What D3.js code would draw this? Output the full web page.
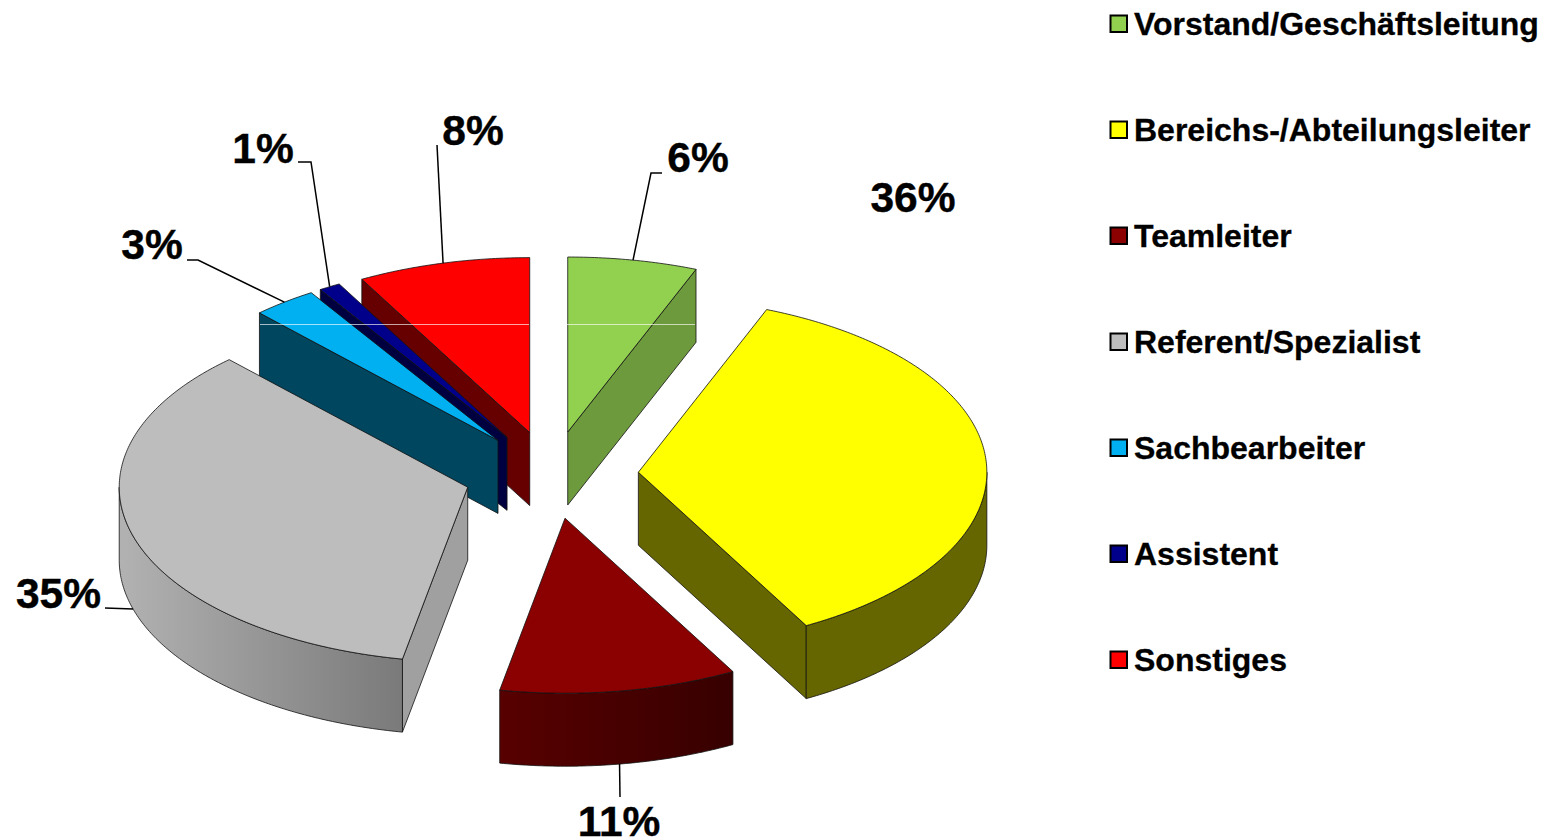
<!DOCTYPE html>
<html>
<head>
<meta charset="utf-8">
<script src="https://cdn.jsdelivr.net/npm/d3@7"></script>
<style>
	html, body { margin: 0; padding: 0; background: #fff; overflow: hidden; }
	text { font-family: "Liberation Sans", Arial, sans-serif; font-weight: bold; fill: #000; }
</style>
</head>
<body>
<div id="chart"></div>
<script>
var categories = ['Vorstand/Geschäftsleitung', 'Bereichs-/Abteilungsleiter', 'Teamleiter', 'Referent/Spezialist', 'Sachbearbeiter', 'Assistent', 'Sonstiges'];
var shares = [6, 36, 11, 35, 3, 1, 8];

var topColors = ['#92d050', '#ffff00', '#8b0000', '#bdbdbd', '#00b0f0', '#00008b', '#ff0000'];
var wallColors = ['#6d9a3c', '#666600', '#4a0000', '#a0a0a0', '#00465f', '#000040', '#660000'];
var wallGradients = { 2: ['#580000', '#370000'], 3: ['#b2b2b2', '#7a7a7a'] };

// back to front, so nearer slices cover the walls behind them
var paintOrder = [0, 6, 5, 4, 3, 1, 2];

// elbow points of the leader lines and where each label sits (36% has no leader)
var leaders = [
	{ elbow: [[651, 173], [662, 173]], text: [698, 172] },
	{ elbow: [], text: [913, 212] },
	{ elbow: [[620, 797]], text: [619, 836] },
	{ elbow: [[105, 608]], text: [58.5, 608] },
	{ elbow: [[198, 260], [187, 260]], text: [152, 259] },
	{ elbow: [[311, 162], [298, 162]], text: [263, 163] },
	{ elbow: [[437, 145]], text: [473, 145] }
];

var width = 1544, height = 840;
var cx = 551.4, cy = 475;
var rx = 348.5, ry = 175;
var depth = 73;
var explode = 0.25;

var svg = d3.select('#chart').append('svg')
	.attr('width', width)
	.attr('height', height);
var defs = svg.append('defs');

var slices = d3.pie().sort(null)(shares);

// angle in radians clockwise from 12 o'clock, r as a share of the radius
var project = function(a, r, ox, oy, dz) {
	return [ox + rx * r * Math.sin(a), oy - ry * r * Math.cos(a) + (dz || 0)];
};

var arcPoints = function(a0, a1, ox, oy, dz) {
	var n = Math.max(2, Math.ceil((a1 - a0) * 90));
	return d3.range(n + 1).map(function(i) {
		return project(a0 + (a1 - a0) * i / n, 1, ox, oy, dz);
	});
};

var line = d3.line();
var outline = '#111';

paintOrder.forEach(function(i) {
	var d = slices[i];
	var mid = (d.startAngle + d.endAngle) / 2;
	var c = project(mid, explode, cx, cy);
	var ox = c[0], oy = c[1];
	var g = svg.append('g').attr('class', 'slice');

	var radialWall = function(a) {
		var p = project(a, 1, ox, oy);
		g.append('path')
			.attr('d', line([[ox, oy], p, [p[0], p[1] + depth], [ox, oy + depth]]) + 'Z')
			.attr('fill', wallColors[i])
			.attr('stroke', outline)
			.attr('stroke-width', 0.8);
	};

	// a cut side faces the viewer only when its outward normal points down
	if (Math.sin(d.startAngle) < -0.01) radialWall(d.startAngle);
	if (Math.sin(d.endAngle) > 0.01) radialWall(d.endAngle);

	// the rim is seen only on the near half of the ellipse
	var a0 = Math.max(d.startAngle, Math.PI / 2);
	var a1 = Math.min(d.endAngle, 3 * Math.PI / 2);
	if (a1 > a0) {
		var fill = wallColors[i];
		if (wallGradients[i]) {
			var xs = arcPoints(a0, a1, ox, oy).map(function(p) { return p[0]; });
			var grad = defs.append('linearGradient')
				.attr('id', 'rim' + i)
				.attr('gradientUnits', 'userSpaceOnUse')
				.attr('x1', d3.min(xs)).attr('x2', d3.max(xs))
				.attr('y1', 0).attr('y2', 0);
			grad.append('stop').attr('offset', 0).attr('stop-color', wallGradients[i][0]);
			grad.append('stop').attr('offset', 1).attr('stop-color', wallGradients[i][1]);
			fill = 'url(#rim' + i + ')';
		}
		var rim = arcPoints(a0, a1, ox, oy).concat(arcPoints(a0, a1, ox, oy, depth).reverse());
		g.append('path')
			.attr('d', line(rim) + 'Z')
			.attr('fill', fill)
			.attr('stroke', outline)
			.attr('stroke-width', 0.8);
	}

	g.append('path')
		.attr('d', line([[ox, oy]].concat(arcPoints(d.startAngle, d.endAngle, ox, oy))) + 'Z')
		.attr('fill', topColors[i])
		.attr('stroke', outline)
		.attr('stroke-width', 0.8);
});

// thin light seam that runs through the back slices in the original
svg.append('g').selectAll('line')
	.data([[260, 529], [567, 695]])
	.enter().append('line')
		.attr('x1', function(d) { return d[0]; })
		.attr('x2', function(d) { return d[1]; })
		.attr('y1', 324.5).attr('y2', 324.5)
		.attr('stroke', '#fff')
		.attr('stroke-opacity', 0.65)
		.attr('stroke-width', 1);

// data labels with leader lines, starting on the slice they belong to
slices.forEach(function(d, i) {
	var mid = (d.startAngle + d.endAngle) / 2;
	var c = project(mid, explode, cx, cy);
	var nearSide = Math.cos(mid) < 0;
	var start = project(mid, 1, c[0], c[1], nearSide ? depth : 0);
	var l = leaders[i];
	if (l.elbow.length) {
		svg.append('path')
			.attr('d', line([start].concat(l.elbow)))
			.attr('fill', 'none')
			.attr('stroke', '#000')
			.attr('stroke-width', 1.5);
	}
	svg.append('text')
		.attr('x', l.text[0])
		.attr('y', l.text[1])
		.attr('text-anchor', 'middle')
		.attr('font-size', 42.5)
		.attr('stroke', '#000')
		.attr('stroke-width', 0.4)
		.text(shares[i] + '%');
});

// legend
var legendY = d3.scalePoint()
	.domain(categories)
	.range([24, 660]);

var legend = svg.append('g').selectAll('g')
	.data(categories)
	.enter().append('g')
		.attr('transform', function(d) { return 'translate(0,' + legendY(d) + ')'; });

legend.append('rect')
	.attr('x', 1110.5).attr('y', -8.5)
	.attr('width', 16.5).attr('height', 16.5)
	.attr('fill', function(d, i) { return topColors[i]; })
	.attr('stroke', '#000')
	.attr('stroke-width', 2);

legend.append('text')
	.attr('x', 1134).attr('y', 10.5)
	.attr('font-size', 32)
	.attr('stroke', '#000')
	.attr('stroke-width', 0.3)
	.text(function(d) { return d; });
</script>
</body>
</html>
